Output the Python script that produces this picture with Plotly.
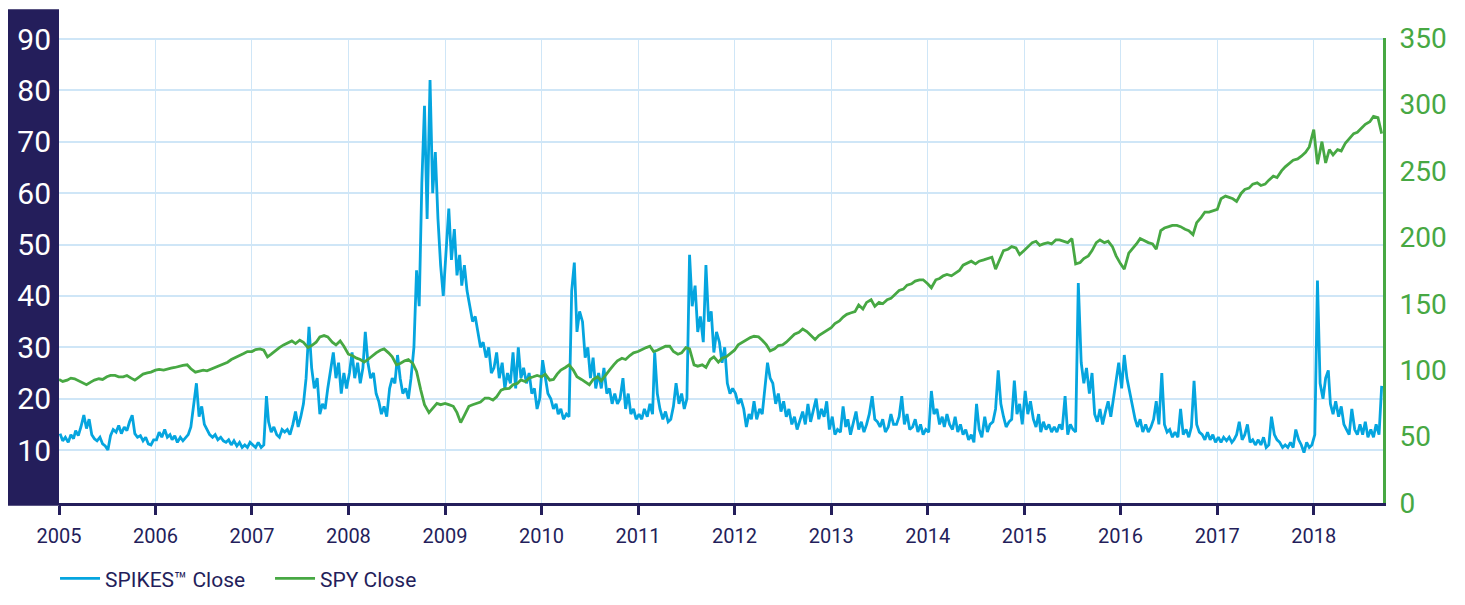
import plotly.graph_objects as go
from datetime import date

# ---------------- data ----------------
# SPIKES close, three readings per month (5th, 15th, 25th)
spikes_2005 = [13.2, 11.8, 12.5, 11.5, 13.0, 12.2, 13.8, 12.8, 14.5, 16.8, 14.2, 16.0,
               13.0, 12.2, 11.8, 12.5, 11.2, 10.8, 10.0, 12.8, 14.0, 13.5, 14.8, 13.2,
               14.5, 13.8, 15.5, 16.8, 13.2, 12.5, 12.8, 11.8, 12.5, 11.2, 11.0, 12.0]
spikes_2006 = [12.0, 13.5, 12.5, 14.0, 12.5, 13.0, 12.0, 12.8, 11.5, 12.5, 11.8, 12.5,
               13.0, 14.5, 19.0, 23.0, 16.5, 18.5, 15.0, 14.0, 13.0, 12.5, 13.0, 12.0,
               12.5, 11.8, 11.5, 12.0, 11.0, 11.8, 10.8, 11.5, 10.5, 11.0, 10.5, 11.5]
spikes_2007 = [11.0, 10.5, 11.5, 10.5, 11.0, 20.5, 15.5, 13.5, 14.5, 13.0, 12.5, 14.0,
               13.5, 14.0, 13.0, 15.0, 17.5, 14.5, 16.5, 19.0, 24.0, 34.0, 26.0, 22.0,
               24.0, 17.0, 19.0, 18.0, 22.0, 25.0, 29.0, 24.0, 27.0, 21.0, 25.0, 22.0]
spikes_2008 = [25.0, 29.0, 24.0, 27.0, 23.0, 26.0, 33.0, 27.0, 24.0, 25.0, 21.0, 19.5,
               17.0, 18.5, 16.5, 22.0, 24.0, 23.0, 28.5, 24.0, 21.0, 22.0, 20.0, 24.0,
               30.0, 45.0, 38.0, 62.0, 77.0, 55.0, 82.0, 60.0, 68.0, 55.0, 46.0, 40.0]
spikes_2009 = [50.0, 57.0, 47.0, 53.0, 44.0, 48.0, 42.0, 46.0, 41.0, 38.0, 35.0, 36.0,
               33.0, 30.0, 31.0, 28.0, 30.0, 25.0, 26.0, 29.0, 24.0, 27.0, 22.0, 25.0,
               23.0, 29.0, 22.0, 30.0, 24.0, 26.0, 23.0, 25.0, 21.0, 22.0, 18.0, 20.0]
spikes_2010 = [27.5, 24.0, 21.0, 20.0, 18.0, 19.0, 17.0, 18.0, 16.0, 17.0, 16.5, 41.0,
               46.5, 33.0, 37.0, 35.0, 28.0, 30.0, 24.0, 28.0, 22.0, 25.0, 22.0, 26.0,
               21.0, 22.0, 19.0, 21.0, 19.0, 20.0, 24.0, 18.0, 21.0, 17.0, 18.0, 16.0]
spikes_2011 = [17.0, 16.0, 18.0, 16.5, 19.0, 17.0, 29.0, 21.0, 18.0, 16.0, 17.5, 15.5,
               16.0, 18.5, 23.0, 19.0, 21.0, 18.0, 20.0, 48.0, 38.0, 42.0, 33.0, 36.0,
               31.0, 46.0, 35.0, 37.0, 29.0, 33.0, 31.0, 27.0, 30.0, 23.0, 21.0, 22.0]
spikes_2012 = [21.0, 19.0, 20.0, 18.0, 14.5, 17.0, 16.0, 19.5, 16.0, 18.0, 17.0, 22.0,
               27.0, 24.0, 23.0, 19.0, 21.0, 17.5, 19.5, 16.5, 18.0, 15.0, 16.5, 14.0,
               16.0, 17.5, 15.0, 19.0, 15.5, 17.5, 20.0, 16.0, 18.0, 16.5, 19.5, 14.0]
spikes_2013 = [16.5, 13.0, 14.0, 13.5, 18.5, 14.5, 16.0, 13.0, 15.0, 17.5, 14.0, 15.5,
               13.5, 15.0, 17.0, 20.5, 16.0, 15.5, 14.5, 16.0, 13.5, 14.5, 17.0, 15.0,
               15.0, 16.5, 20.5, 15.0, 17.0, 14.0, 14.5, 16.0, 13.5, 15.0, 13.0, 14.0]
spikes_2014 = [13.5, 21.5, 17.0, 18.0, 15.0, 16.5, 14.5, 17.0, 15.0, 14.0, 16.5, 13.5,
               15.0, 13.0, 14.0, 12.0, 13.0, 11.5, 19.0, 14.0, 12.5, 16.5, 13.5, 15.0,
               15.5, 18.0, 25.5, 19.0, 16.5, 14.5, 15.5, 16.0, 23.5, 17.0, 19.0, 15.0]
spikes_2015 = [21.5, 17.0, 19.5, 16.0, 14.5, 17.0, 13.5, 15.5, 14.0, 15.0, 13.5, 14.5,
               13.5, 15.0, 14.0, 20.5, 13.0, 15.0, 14.0, 13.5, 42.5, 27.0, 23.0, 26.0,
               21.0, 25.0, 17.0, 15.5, 18.0, 15.0, 17.5, 19.5, 16.5, 20.0, 24.0, 27.0]
spikes_2016 = [22.0, 28.5, 24.0, 21.0, 18.0, 16.0, 14.5, 16.0, 13.5, 15.0, 13.5, 14.5,
               16.0, 19.5, 15.0, 25.0, 15.0, 13.5, 14.0, 12.5, 13.5, 12.5, 18.0, 13.0,
               14.0, 12.5, 14.5, 23.5, 15.0, 13.5, 13.0, 12.0, 13.5, 12.0, 13.0, 11.5]
spikes_2017 = [12.5, 11.5, 12.5, 11.8, 12.5, 11.5, 12.0, 13.0, 15.5, 12.0, 13.0, 15.0,
               11.5, 12.0, 11.0, 12.0, 11.0, 12.5, 10.5, 11.0, 16.5, 13.0, 12.0, 11.5,
               10.5, 11.0, 10.5, 11.5, 10.5, 14.0, 12.0, 11.0, 9.5, 11.5, 10.5, 11.0]
spikes_2018 = [13.0, 43.0, 23.0, 20.0, 24.0, 25.5, 19.0, 17.0, 19.5, 16.5, 18.5, 15.0,
               14.0, 13.0, 18.0, 14.0, 13.0, 15.0, 13.0, 15.5, 12.5, 14.0, 12.5, 15.0,
               13.0, 22.5]

# SPY close, two readings per month (1st, 15th)
spy_2005 = [93, 91.5, 92.5, 94, 93.5, 92, 90, 89, 91, 92.5, 93.5, 93,
            95, 96, 96, 95, 95, 96, 94, 92.5, 95, 97, 98, 98.5]
spy_2006 = [100, 100.5, 100, 101, 101.5, 102, 103, 103.5, 104, 101, 98.5, 99,
            100, 99.5, 101, 102, 103.5, 104.5, 106, 108, 109.5, 111, 112.5, 114]
spy_2007 = [114, 115.5, 116, 115, 110, 112, 115, 117, 119, 120.5, 122, 120,
            122.5, 121, 117, 118.5, 121, 125, 126, 125, 121, 119, 122, 118]
spy_2008 = [112, 111, 109, 108, 106, 108, 111, 113, 115, 116, 113, 110,
            104, 105, 107, 108, 105, 99, 85, 74, 68, 71, 75, 74]
spy_2009 = [75, 74, 72.8, 68, 60.5, 66, 72.8, 74, 75, 76, 79, 79,
            77.5, 80, 85, 86, 86.3, 89, 90, 92.6, 91.3, 94, 95, 96]
spy_2010 = [95, 97, 92.5, 93, 97, 100, 102, 104, 100, 95, 93, 91,
            89, 93, 95, 92, 96, 100, 104, 107, 109, 108, 111, 113]
spy_2011 = [114, 115.5, 117, 118, 114, 115, 117, 118, 118, 114, 112, 113,
            117, 116, 104, 103, 104, 102, 108, 110, 106, 109, 110, 112]
spy_2012 = [115, 119, 121, 123, 124.5, 125.5, 125, 122.5, 119, 114.5, 116, 118.5,
            119, 121, 124, 127, 128.5, 131, 129, 126, 123, 126, 128, 130]
spy_2013 = [132, 135, 137, 140, 142, 143, 144, 149, 146, 151, 153, 148,
            151, 150, 153, 154, 157, 160, 161, 164, 165, 167, 168, 168]
spy_2014 = [165, 162, 168, 169, 171, 172, 171, 173, 175, 179, 181, 182,
            180, 182, 183, 184, 185, 176, 183, 190, 191, 193, 192, 187]
spy_2015 = [190, 193, 196, 197, 194, 195, 196, 195, 198, 198, 197, 196,
            199, 180, 181, 184, 186, 190, 196, 198, 196, 197, 193, 186]
spy_2016 = [180, 176, 188, 191, 195, 199, 197, 196, 195, 191, 205, 207,
            208, 209, 209, 208, 206, 205, 202, 211, 215, 219, 219, 220]
spy_2017 = [221, 229, 231, 230, 229, 227, 233, 236, 237, 240, 241, 239,
            240, 243, 246, 245, 250, 253, 256, 258, 259, 261, 264, 268]
spy_2018 = [281, 255, 272, 256, 266, 262, 266, 265, 271, 274, 278, 279,
            282, 285, 287, 291, 290, 278]

years = list(range(2005, 2019))
tick_labels = [str(y) for y in years]

spikes_by_year = [spikes_2005, spikes_2006, spikes_2007, spikes_2008, spikes_2009,
                  spikes_2010, spikes_2011, spikes_2012, spikes_2013, spikes_2014,
                  spikes_2015, spikes_2016, spikes_2017, spikes_2018]
spy_by_year = [spy_2005, spy_2006, spy_2007, spy_2008, spy_2009, spy_2010, spy_2011,
               spy_2012, spy_2013, spy_2014, spy_2015, spy_2016, spy_2017, spy_2018]


def calendar(year, count, days):
    return [date(year, k // len(days) + 1, days[k % len(days)]) for k in range(count)]


spikes_x, spikes_y, spy_x, spy_y = [], [], [], []
for yr, vals in zip(years, spikes_by_year):
    spikes_x += calendar(yr, len(vals), [5, 15, 25])
    spikes_y += vals
for yr, vals in zip(years, spy_by_year):
    spy_x += calendar(yr, len(vals), [1, 15])
    spy_y += vals

NAVY = "#241e5b"
BLUE = "#05a5df"
GREEN = "#47a843"
GRID = "#cfe6f7"
FONT = "Roboto"

fig = go.Figure()
fig.add_trace(go.Scatter(x=spikes_x, y=spikes_y, mode="lines", name="SPIKES™ Close",
                         line=dict(color=BLUE, width=2.8), yaxis="y"))
fig.add_trace(go.Scatter(x=spy_x, y=spy_y, mode="lines", name="SPY Close",
                         line=dict(color=GREEN, width=2.8), yaxis="y2"))

# navy band behind the left tick labels
fig.add_shape(type="rect", xref="paper", yref="paper", x0=-0.0393, x1=0.0,
              y0=-0.006, y1=1.062, fillcolor=NAVY, line=dict(width=0), layer="below")

# the page body adds an 8px offset, so the figure is sized/margined to compensate
fig.update_layout(
    width=1449, height=589,
    margin=dict(l=51, r=74, t=30, b=94, autoexpand=False),
    paper_bgcolor="white", plot_bgcolor="white",
    font=dict(family=FONT, color=NAVY),
    showlegend=True,
    legend=dict(orientation="h", x=-0.003, xanchor="left", y=-0.163, yanchor="middle",
                font=dict(size=21, color=NAVY, family=FONT), itemwidth=40,
                entrywidth=160, entrywidthmode="pixels",
                tracegroupgap=0, bgcolor="rgba(0,0,0,0)"),
    xaxis=dict(
        type="date", range=["2005-01-01", "2018-09-20"],
        tickvals=[date(y, 1, 1) for y in years], ticktext=tick_labels,
        showgrid=True, gridcolor=GRID, gridwidth=1,
        showline=True, linecolor=NAVY, linewidth=3,
        ticks="outside", ticklen=9, tickwidth=3, tickcolor=NAVY,
        tickfont=dict(size=20, color=NAVY, family=FONT), ticklabelstandoff=4,
        zeroline=False, automargin=False,
    ),
    yaxis=dict(
        range=[-0.3, 90.2], tickvals=[10, 20, 30, 40, 50, 60, 70, 80, 90],
        showgrid=True, gridcolor=GRID, gridwidth=1.5,
        showline=False, zeroline=False, ticks="",
        tickfont=dict(size=30, color="white", family=FONT), ticklabelstandoff=7,
        automargin=False,
    ),
    yaxis2=dict(
        range=[0, 350], tickvals=[0, 50, 100, 150, 200, 250, 300, 350],
        overlaying="y", side="right", anchor="x",
        showgrid=False, zeroline=False,
        showline=True, linecolor=GREEN, linewidth=3, ticks="",
        tickfont=dict(size=28, color=GREEN, family=FONT), ticklabelstandoff=8,
        automargin=False,
    ),
)

fig.write_html("out.html")
